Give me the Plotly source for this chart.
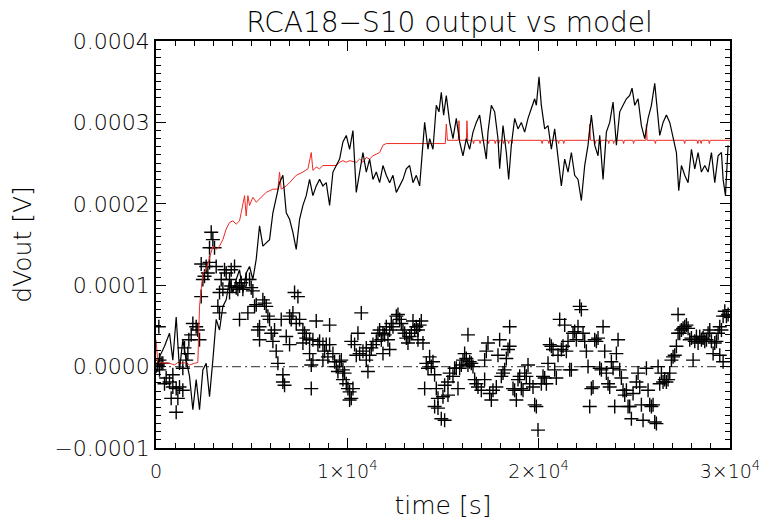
import plotly.graph_objects as go

# values are in units of 1e-4 V
UNIT = 1e-4

# measured output (black line)
out_t = [0, 183, 444, 706, 880, 1055, 1229, 1403, 1577, 1752, 1926, 2100, 2275, 2449, 2623, 2797,
         2972, 3146, 3320, 3495, 3669, 3843, 4018, 4192, 4366, 4541, 4715, 4889, 5063, 5238, 5412,
         5586, 5761, 5935, 6109, 6284, 6458, 6632, 6807, 6981, 7155, 7329, 7504, 7678, 7852, 8027,
         8201, 8375, 8550, 8724, 8898, 9073, 9247, 9421, 9596, 9770, 9944, 10119, 10293, 10467,
         10642, 10816, 10990, 11165, 11339, 11513, 11688, 11862, 12036, 12211, 12385, 12559, 12734,
         12908, 13082, 13257, 13431, 13605, 13780, 13954, 14041, 14215, 14301, 14475, 14650, 14789,
         14911, 15033, 15173, 15347, 15521, 15695, 15870, 16044, 16218, 16393, 16567, 16741, 16916,
         17090, 17264, 17351, 17526, 17700, 17874, 17961, 18136, 18310, 18432, 18571, 18746, 18920,
         19094, 19269, 19443, 19617, 19791, 19879, 20018, 20140, 20314, 20489, 20663, 20837, 21012,
         21186, 21360, 21534, 21709, 21883, 22057, 22232, 22406, 22580, 22755, 22929, 23103, 23190,
         23365, 23539, 23713, 23888, 24062, 24236, 24410, 24585, 24759, 24881, 25021, 25195, 25369,
         25543, 25718, 25892, 26066, 26188, 26328, 26502, 26676, 26851, 27025, 27199, 27321, 27461,
         27635, 27809, 27984, 28158, 28332, 28507, 28681, 28855, 29030, 29204, 29378, 29553, 29640,
         29762, 29901]
out_v = [-0.08, 0.12, 0.25, 0.41, 0.08, 0.61, -0.04, 0.33, 0.08, -0.12, -0.53, -0.16, -0.53, -0.04,
         0.04, -0.37, 0.08, 0.58, 0.45, 0.74, 0.82, 1.07, 0.91, 1.07, 1.19, 0.91, 1.15, 1.23, 1.07,
         1.32, 1.73, 1.48, 1.52, 1.56, 1.89, 2.06, 2.26, 2.35, 1.89, 1.81, 1.65, 1.44, 1.81, 1.98,
         2.10, 2.30, 2.10, 2.22, 2.30, 2.22, 2.26, 1.98, 2.39, 2.47, 2.55, 2.76, 2.84, 2.67, 2.90,
         2.14, 2.39, 2.63, 2.39, 2.55, 2.30, 2.39, 2.26, 2.47, 2.35, 2.26, 2.35, 2.14, 2.22, 2.30,
         2.43, 2.47, 2.26, 2.35, 2.22, 2.72, 3.00, 2.67, 2.80, 2.67, 3.21, 3.13, 3.37, 3.09, 3.33,
         3.00, 2.80, 3.05, 2.76, 2.59, 2.80, 2.67, 2.88, 3.00, 3.09, 2.80, 2.55, 2.88, 3.21, 3.13,
         2.80, 2.43, 2.96, 2.63, 2.30, 2.72, 3.05, 2.92, 3.00, 2.88, 3.05, 3.17, 3.29, 3.21, 3.56,
         3.21, 2.92, 2.96, 2.67, 2.92, 2.59, 2.22, 2.55, 2.39, 2.63, 2.35, 2.30, 2.04, 2.47, 2.72,
         3.09, 2.72, 2.59, 2.84, 2.30, 2.88, 3.00, 3.25, 2.72, 3.13, 3.21, 3.29, 3.33, 3.42, 3.21,
         3.29, 2.96, 2.80, 3.05, 3.21, 3.48, 3.21, 2.84, 3.00, 3.09, 3.00, 2.80, 2.63, 2.16, 2.47,
         2.35, 2.26, 2.67, 2.43, 2.63, 2.39, 2.47, 2.39, 2.63, 2.26, 2.59, 2.63, 2.30, 2.10, 2.72]

# model (red line)
model_t = [0, 96, 706, 967, 1142, 1403, 1577, 1752, 2013, 2187, 2275, 2449, 2623, 2797, 2972, 3146,
           3320, 3495, 3669, 3843, 4018, 4192, 4366, 4453, 4628, 4715, 4802, 4889, 5063, 5238, 5412,
           5586, 5761, 5935, 6109, 6371, 6458, 6545, 6807, 6981, 7155, 7329, 7678, 7940, 8114, 8201,
           8375, 8550, 8724, 9421, 9596, 9770, 9944, 10119, 10467, 10642, 10816, 10990, 11165, 11339,
           11513, 11688, 11862, 12036, 15120, 15173, 15230, 15800, 15835, 15870, 16220, 16253, 16290,
           16560, 16600, 16640, 16900, 16940, 16980, 17340, 17380, 17420, 17690, 17730, 17770, 17870,
           17910, 17950, 18130, 18170, 18210, 18390, 18430, 18470, 18560, 18600, 18640, 20140, 20180,
           20220, 20490, 20530, 20570, 21000, 21040, 21080, 21270, 21310, 21350, 22620, 22667, 22710,
           22920, 22960, 23000, 23180, 23220, 23260, 23620, 23660, 23700, 23880, 23920, 23960, 24400,
           24440, 24480, 24920, 24960, 25000, 25600, 25631, 25670, 26060, 26100, 26140, 27590, 27630,
           27670, 28280, 28320, 28360, 28450, 28490, 28530, 28880, 28920, 28960, 30000]
model_v = [0.33, 0.05, 0.04, 0.02, 0.05, 0.04, 0.05, 0.02, 0.04, 0.05, 0.74, 1.15, 1.19, 1.32, 1.48,
           1.44, 1.48, 1.56, 1.69, 1.77, 1.79, 1.75, 1.79, 1.89, 2.10, 1.85, 2.10, 1.98, 2.08, 2.02,
           2.06, 2.10, 2.14, 2.16, 2.18, 2.18, 2.39, 2.18, 2.22, 2.26, 2.30, 2.35, 2.39, 2.43, 2.63,
           2.41, 2.45, 2.43, 2.47, 2.47, 2.51, 2.53, 2.51, 2.53, 2.51, 2.55, 2.51, 2.57, 2.55, 2.59,
           2.61, 2.63, 2.72, 2.74, 2.74, 2.98, 2.78, 2.78, 3.02, 2.78, 2.78, 3.02, 2.78,
           2.78, 2.74, 2.78, 2.78, 2.74, 2.78, 2.78, 2.74, 2.78, 2.78, 2.74, 2.78, 2.78,
           2.74, 2.78, 2.78, 2.74, 2.78, 2.78, 2.74, 2.78, 2.78, 2.74, 2.78, 2.78, 2.74,
           2.78, 2.78, 2.74, 2.78, 2.78, 2.74, 2.78, 2.78, 2.74, 2.78, 2.78, 2.98, 2.78,
           2.78, 2.74, 2.78, 2.78, 2.74, 2.78, 2.78, 2.74, 2.78, 2.78, 2.74, 2.78, 2.78,
           2.74, 2.78, 2.78, 2.74, 2.78, 2.78, 2.98, 2.78, 2.78, 2.74, 2.78, 2.78, 2.74,
           2.78, 2.78, 2.74, 2.78, 2.78, 2.74, 2.78, 2.78, 2.74, 2.78, 2.78]

# residual points (plus signs)
res_t = [148, 183, 96, 270, 183, 357, 532, 444, 706, 880, 880, 1055, 1229, 1403, 1142, 793, 1055,
         1403, 1577, 1665, 1717, 1490, 1839, 1926, 2100, 2187, 2275, 2362, 2449, 2536, 2623, 2362,
         2797, 2710, 2885, 2972, 2797, 3059, 3146, 3582, 4105, 3408, 3669, 3843, 3930, 3320, 3495,
         3233, 3320, 3843, 3930, 4192, 4366, 4453, 4279, 4541, 4715, 4889, 4976, 5063, 4366, 4802,
         5151, 5238, 5586, 5674, 5761, 5848, 5935, 5412, 5325, 5412, 6022, 6196, 6109, 6284, 6371,
         6545, 6807, 6981, 6981, 7155, 7068, 7242, 7417, 7329, 7504, 7678, 7765, 7678, 7852, 8027,
         8201, 8375, 8462, 8550, 8724, 8811, 8898, 9073, 9073, 8724, 8985, 9247, 9334, 9421, 9508,
         9596, 9683, 9770, 9857, 9770, 9944, 10031, 10119, 10293, 10206, 10119, 8114, 6632, 6719,
         6632, 8027, 8114, 8201, 10206, 10380, 10467, 10554, 10729, 10642, 10816, 10990, 11077,
         10990, 11165, 11252, 11339, 11513, 11600, 11688, 11775, 11862, 11949, 12036, 12123, 12211,
         12298, 12385, 12559, 12646, 12734, 12821, 12908, 12995, 13082, 13169, 13257, 13344, 13431,
         13518, 13605, 13692, 13780, 13867, 13954, 13692, 11862, 12211, 14128, 14215, 14041,
         14301, 14475, 14388, 14562, 14650, 14737, 14562, 14737, 14911, 15085, 14998, 15085, 15260,
         15260, 15347, 15521, 15608, 15695, 15783, 15870, 15957, 16044, 16131, 16218, 16305, 16393,
         16480, 16305, 16567, 16654, 16741, 16828, 17003, 17177, 17264, 17351, 17177, 17438, 17526,
         17613, 17787, 17874, 17961, 18048, 18136, 18310, 18397, 18484, 18484, 18223, 18659, 18746,
         18833, 18920, 19007, 19094, 19181, 19269, 19356, 19443, 19530, 19704, 19791, 19879, 19966,
         20140, 20227, 20314, 20402, 20489, 20576, 20663, 20750, 20837, 20924, 21012, 21099, 21186,
         21273, 21360, 21447, 21534, 21622, 21709, 21796, 21883, 21970, 22057, 22145, 22232, 22319,
         22406, 22493, 22580, 22667, 22755, 22842, 22929, 23016, 23103, 23190, 23278, 23365, 23452,
         23539, 23626, 23713, 23800, 23888, 23975, 24149, 24062, 24236, 24323, 24410, 24498, 24585,
         24672, 24759, 24846, 24933, 25108, 25195, 25282, 25456, 25369, 25631, 25718, 25805, 25892,
         25979, 26066, 26153, 26241, 26328, 26415, 26502, 26589, 26676, 26763, 26851, 26938, 27025,
         27112, 27199, 27286, 27286, 27374, 27461, 27548, 27635, 27722, 27809, 27897, 27984, 28071,
         28158, 28245, 28332, 28419, 28507, 28594, 28681, 28768, 28855, 28942, 29030, 29117, 29204,
         29291, 29378, 29465, 29553, 29640, 29727, 29814, 29901, 29640, 29465]
res_v = [0.49, 0.08, 0.02, 0.04, -0.04, 0.04, -0.14, -0.21, -0.19, -0.10, -0.25, -0.27, -0.25, -0.29,
         -0.39, -0.39, -0.56, -0.02, 0.08, 0.16, 0.33, 0.23, 0.39, 0.53, 0.49, 0.45, 0.33, 0.86, 1.07,
         1.11, 1.23, 1.26, 1.28, 1.15, 1.65, 1.56, 1.46, 1.46, 1.23, 1.19, 1.23, 1.07, 1.15, 1.07,
         1.19, 0.91, 0.95, 0.74, 0.66, 0.91, 0.99, 0.97, 0.99, 1.03, 0.95, 0.95, 1.07, 1.07, 0.97,
         0.93, 0.58, 0.66, 0.74, 0.76, 0.82, 0.78, 0.74, 0.62, 0.58, 0.49, 0.45, 0.33, 0.41, 0.45,
         0.31, 0.19, 0.04, 0.58, 0.37, 0.27, 0.62, 0.66, 0.58, 0.91, 0.86, 0.53, 0.58, 0.45, 0.41,
         0.29, 0.35, 0.33, 0.33, 0.56, 0.27, 0.31, 0.27, 0.19, 0.27, 0.27, 0.51, 0.08, 0.12, 0.16,
         0.06, 0.00, -0.06, 0.06, 0.08, -0.04, -0.08, -0.16, -0.21, -0.27, -0.31, -0.27, -0.39,
         -0.41, -0.27, -0.19, -0.23, -0.10, 0.16, 0.02, 0.08, 0.31, 0.27, 0.14, 0.41, 0.66, 0.16,
         0.19, 0.23, -0.06, 0.08, 0.14, 0.23, 0.27, 0.31, 0.41, 0.45, 0.33, 0.41, 0.39, 0.49, 0.33,
         0.45, 0.53, 0.49, 0.62, 0.64, 0.58, 0.53, 0.45, 0.41, 0.35, 0.29, 0.37, 0.41, 0.56, 0.45,
         0.49, 0.45, 0.51, 0.56, 0.29, 0.33, 0.16, 0.21, 0.04, -0.02, -0.27,
         0.12, 0.06, 0.00, -0.10, -0.27, -0.39, -0.49, -0.51, -0.64, -0.66, -0.37, -0.23, -0.35,
         -0.19, -0.08, -0.12, -0.02, -0.02, -0.27, -0.02, 0.02, 0.08, 0.16, 0.10, 0.02, 0.06, 0.04,
         0.39, 0.00, -0.16, -0.21, -0.25, -0.29, -0.16, 0.19, 0.29, 0.08, -0.33, -0.41, -0.29,
         -0.25, 0.14, 0.33, -0.12, -0.08, 0.10, 0.21, 0.25, 0.49, -0.04, -0.27, -0.29, -0.41, -0.16,
         -0.12, -0.27, -0.29, -0.08, -0.12, 0.02, -0.21, -0.25, -0.47, -0.49, -0.78, -0.21, -0.12,
         -0.14, -0.21, 0.04, 0.27, 0.25, 0.21, -0.04, -0.14, 0.14, 0.58, 0.21, 0.25, 0.51, 0.19,
         0.31, -0.04, -0.04, 0.41, 0.43, 0.33, 0.49, 0.74, 0.70, 0.41, 0.31, 0.19, 0.00, -0.49,
         -0.27, -0.25, 0.33, 0.31, 0.35, -0.02, -0.04, 0.49, 0.19, -0.08, -0.21, -0.25, 0.06, -0.02,
         -0.49, 0.33, 0.16, -0.04, -0.14, -0.29, -0.35, -0.29, -0.49, -0.49, -0.64, -0.33, -0.19,
         -0.08, -0.25, -0.66, -0.47, -0.02, -0.29, -0.47, -0.49, -0.47, -0.68, -0.70, 0.00, -0.21,
         -0.08, -0.19, -0.16, -0.19, -0.16, -0.08, 0.08, 0.12, 0.14, 0.25, 0.41, 0.64, 0.41, 0.45,
         0.47, 0.49, 0.51, 0.47, 0.33, 0.35, 0.08, 0.31, 0.37, 0.29, 0.37, 0.33, 0.35, 0.31, 0.33,
         0.41, 0.45, 0.31, 0.16, 0.29, 0.31, 0.41, 0.49, 0.45, 0.62, 0.68, 0.62, 0.64, 0.06, 0.14]

x_range = [0, 30000]
y_range = [-0.0001, 0.0004]
x_tickvals = [0, 10000, 20000, 30000]
x_ticktext = ["0", "1×10<sup>4</sup>", "2×10<sup>4</sup>", "3×10<sup>4</sup>"]
y_tickvals = [-0.0001, 0.0, 0.0001, 0.0002, 0.0003, 0.0004]
y_ticktext = ["\u22120.0001", "0.0000", "0.0001", "0.0002", "0.0003", "0.0004"]

FONT = "DejaVu Sans"
W = 200  # thin strokes, like the reference's vector font

fig = go.Figure()
fig.add_trace(go.Scatter(x=x_range, y=[0, 0], mode="lines",
                         line=dict(color="#555555", width=1.2, dash="9px,4px,2px,4px"),
                         hoverinfo="skip"))
fig.add_trace(go.Scatter(x=res_t, y=[v * UNIT for v in res_v], mode="markers",
                         marker=dict(symbol="cross-thin", size=10,
                                     line=dict(color="black", width=1.4))))
fig.add_trace(go.Scatter(x=model_t, y=[v * UNIT for v in model_v], mode="lines",
                         line=dict(color="#ee2a22", width=1)))
fig.add_trace(go.Scatter(x=out_t, y=[v * UNIT for v in out_v], mode="lines",
                         line=dict(color="black", width=1.2)))

axis_common = dict(showgrid=False, zeroline=False, showline=True, linecolor="black",
                   linewidth=1.5, mirror="allticks", ticks="inside", ticklen=10,
                   tickcolor="black", tickwidth=1.2, ticklabeloverflow="allow")

fig.update_xaxes(range=x_range, tickmode="array", tickvals=x_tickvals, ticktext=x_ticktext,
                 tickfont=dict(family=FONT, size=19, color="black", weight=W),
                 ticklabelstandoff=5,
                 minor=dict(ticks="inside", dtick=1000, ticklen=5, tickcolor="black",
                            tickwidth=1, showgrid=False),
                 title=dict(text="time [s]", font=dict(family=FONT, size=25, color="black", weight=W),
                            standoff=22),
                 **axis_common)
fig.update_yaxes(range=y_range, tickmode="array", tickvals=y_tickvals, ticktext=y_ticktext,
                 tickfont=dict(family=FONT, size=22, color="black", weight=W),
                 minor=dict(ticks="inside", dtick=0.00001, ticklen=5, tickcolor="black",
                            tickwidth=1, showgrid=False),
                 title=dict(text="dVout [V]", font=dict(family=FONT, size=25, color="black", weight=W),
                            standoff=27),
                 **axis_common)

# the page body is offset by 8px, so the figure is sized to end at the window edge
fig.update_layout(
    width=759, height=512,
    margin=dict(l=148, r=37, t=33, b=72, autoexpand=False),
    paper_bgcolor="white", plot_bgcolor="white",
    showlegend=False,
    title=dict(text="RCA18\u2212S10 output vs model", x=0.5817, xanchor="center", y=0.9727,
               yanchor="middle", font=dict(family=FONT, size=28, color="black", weight=W)),
)

fig.write_html("out.html")
